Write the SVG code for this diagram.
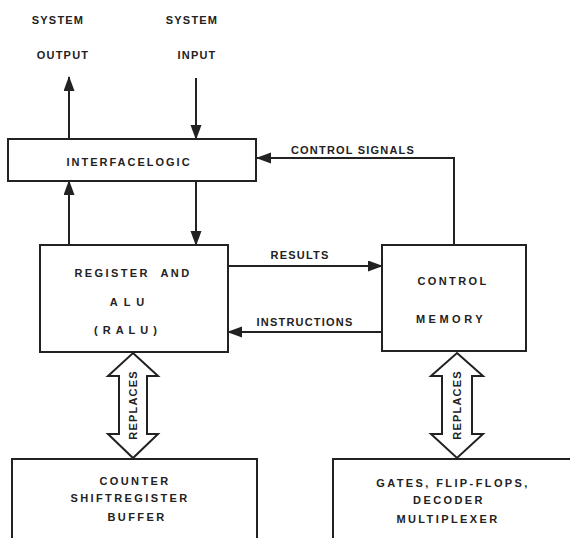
<svg xmlns="http://www.w3.org/2000/svg" width="570" height="538" viewBox="0 0 570 538">
<style>
text{font-family:"Liberation Sans",Arial,sans-serif;font-weight:bold;font-size:11px;fill:#222;text-anchor:middle;letter-spacing:1.2px;white-space:pre}
.box{fill:#fff;stroke:#222;stroke-width:2}
.ln{fill:none;stroke:#222;stroke-width:2}
.w{letter-spacing:2.4px}
</style>
<defs>
<marker id="ah" markerUnits="userSpaceOnUse" markerWidth="15" markerHeight="12" refX="14" refY="5.5" orient="auto">
<path d="M0,0 L15,5.5 L0,11 z" fill="#222"/>
</marker>
</defs>
<rect width="570" height="538" fill="#fff"/>
<g id="labels">
<text x="58" y="24">SYSTEM</text>
<text x="63" y="59">OUTPUT</text>
<text x="192" y="24">SYSTEM</text>
<text x="197" y="59">INPUT</text>
</g>
<g id="connectors">
<line class="ln" x1="69" y1="139" x2="69" y2="77" marker-end="url(#ah)"/>
<line class="ln" x1="196" y1="78" x2="196" y2="139" marker-end="url(#ah)"/>
<line class="ln" x1="69" y1="245" x2="69" y2="181" marker-end="url(#ah)"/>
<line class="ln" x1="196" y1="181" x2="196" y2="245" marker-end="url(#ah)"/>
<polyline class="ln" points="454,245 454,158 257,158" marker-end="url(#ah)"/>
<line class="ln" x1="228" y1="266" x2="382" y2="266" marker-end="url(#ah)"/>
<line class="ln" x1="382" y1="332" x2="228" y2="332" marker-end="url(#ah)"/>
<text x="353" y="154">CONTROL SIGNALS</text>
<text x="300" y="259">RESULTS</text>
<text x="305" y="326">INSTRUCTIONS</text>
<g id="replaces-left">
<polygon class="box" points="133,353 158,376 147,376 147,434 158,434 133,458 108,434 119,434 119,376 108,376"/>
<text transform="translate(137,405) rotate(-90)">REPLACES</text>
</g>
<g id="replaces-right">
<polygon class="box" points="457,353 483,376 472,376 472,434 483,434 457,458 431,434 442,434 442,376 431,376"/>
<text transform="translate(461,405) rotate(-90)">REPLACES</text>
</g>
</g>
<g id="interface">
<rect class="box" x="8" y="139" width="248" height="42"/>
<text x="129" y="166" style="letter-spacing:2px">INTERFACELOGIC</text>
</g>
<g id="ralu">
<rect class="box" x="40" y="245" width="188" height="107"/>
<text x="133" y="277" class="w">REGISTER  AND</text>
<text x="130" y="306" style="letter-spacing:6px">ALU</text>
<text x="128" y="334" style="letter-spacing:5px">(RALU)</text>
</g>
<g id="control-memory">
<rect class="box" x="382" y="245" width="144" height="106"/>
<text x="453" y="285" class="w">CONTROL</text>
<text x="451" y="323" style="letter-spacing:3.5px">MEMORY</text>
</g>
<g id="hardware-left">
<rect class="box" x="12" y="459" width="245" height="100"/>
<text x="135" y="485" class="w">COUNTER</text>
<text x="130" y="502" class="w">SHIFTREGISTER</text>
<text x="137" y="521" class="w">BUFFER</text>
</g>
<g id="hardware-right">
<rect class="box" x="333" y="459" width="250" height="100"/>
<text x="453" y="487" class="w">GATES, FLIP-FLOPS,</text>
<text x="449" y="504" class="w">DECODER</text>
<text x="448" y="523" class="w">MULTIPLEXER</text>
</g>
</svg>
